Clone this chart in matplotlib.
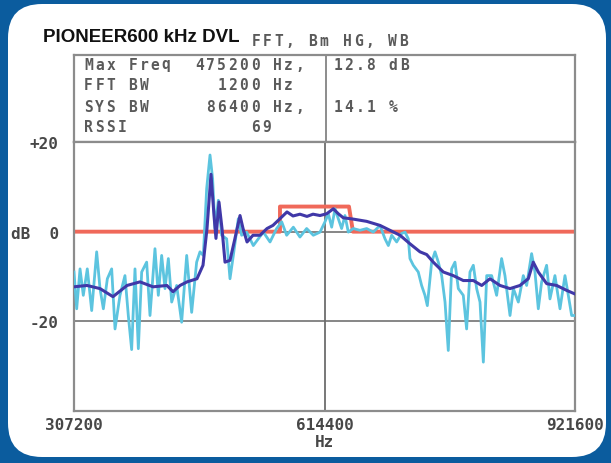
import numpy as np
import matplotlib
matplotlib.use("Agg")
import matplotlib.pyplot as plt
from matplotlib.patches import FancyBboxPatch

W, H = 611, 464

# spectrum, frequency in kHz, level in dB
raw_khz = [307.2, 310.5, 314.6, 318.6, 323.5, 328.9, 335.0, 339.1, 343.2, 348.1,
           353.4, 357.5, 363.6, 369.7, 373.8, 377.9, 382.0, 386.1, 390.2, 396.3,
           400.4, 406.5, 410.6, 414.7, 418.8, 422.9, 427.0, 433.1, 439.2, 445.4,
           451.5, 457.6, 461.7, 465.8, 469.9, 474.0, 477.2, 480.1, 484.2, 488.3,
           494.4, 498.5, 502.6, 508.7, 512.8, 518.9, 527.1, 533.2, 539.4, 547.6,
           555.7, 561.9, 568.0, 576.2, 584.3, 592.5, 600.7, 608.9, 615.0, 619.1,
           623.2, 627.3, 631.3, 635.4, 639.5, 643.6, 649.7, 657.9, 666.1, 674.3,
           682.4, 688.6, 692.7, 696.8, 702.9, 709.0, 713.1, 717.2, 719.2, 723.3,
           729.4, 733.5, 737.6, 740.5, 745.8, 749.9, 754.0, 758.1, 762.2, 766.2,
           770.3, 774.4, 778.5, 784.6, 788.7, 792.8, 796.9, 801.0, 805.1, 809.2,
           813.3, 819.4, 825.5, 831.6, 835.7, 841.9, 846.0, 852.1, 858.2, 862.3,
           868.4, 872.5, 876.6, 880.7, 886.8, 890.9, 897.0, 903.2, 909.3, 913.4,
           917.5, 921.6]
raw_db = [-9.0, -17.2, -8.3, -14.2, -8.3, -17.6, -4.5, -12.7, -17.2, -10.5,
          -8.3, -21.7, -14.2, -9.8, -18.7, -26.3, -8.3, -26.1, -9.0, -6.8,
          -18.7, -3.8, -14.2, -5.3, -12.7, -6.0, -15.7, -12.0, -20.2, -5.3,
          -18.0, -6.8, -4.5, -5.3, 9.6, 17.1, 11.8, 0.7, 7.0, -0.8,
          -1.6, -10.5, -5.3, 2.9, -0.8, -0.1, -3.1, -1.6, -0.1, -2.3,
          0.7, 2.2, -0.8, 1.0, -1.2, 0.7, -0.8, -0.1, 2.2, 4.0,
          1.0, 5.1, 2.9, 0.7, 3.6, -0.1, 0.7, 0.3, 0.7, -0.1,
          1.4, -1.6, -3.1, -0.8, -2.3, -0.4, -0.1, -1.6, -6.0, -7.5,
          -9.0, -12.0, -14.2, -16.5, -6.8, -4.5, -6.8, -9.8, -15.7, -26.5,
          -8.3, -6.8, -12.7, -14.2, -21.7, -9.0, -7.5, -12.7, -15.7, -29.1,
          -9.8, -9.8, -14.2, -6.0, -9.8, -18.7, -12.7, -15.7, -9.8, -12.0,
          -4.9, -9.0, -17.2, -11.2, -7.5, -15.0, -9.8, -17.2, -9.8, -14.2,
          -18.7, -18.7]

avg_khz = [307.2, 323.1, 339.1, 355.0, 372.2, 388.1, 404.1, 421.2, 428.6, 437.2,
           445.8, 458.0, 465.4, 470.3, 475.2, 478.9, 481.3, 485.0, 488.7, 492.4,
           498.5, 504.6, 510.8, 514.5, 519.4, 526.7, 535.3, 543.9, 551.2, 559.8,
           568.4, 575.8, 584.3, 592.9, 600.3, 608.9, 617.1, 625.2, 631.3, 637.4,
           649.7, 666.1, 682.4, 694.7, 707.0, 719.2, 731.5, 739.7, 747.8, 760.1,
           772.3, 784.6, 796.9, 807.2, 817.3, 829.6, 841.9, 854.1, 864.3, 870.4,
           876.6, 886.9, 899.1, 911.4, 921.6]
avg_db = [-12.3, -12.0, -12.7, -14.5, -12.0, -11.2, -12.3, -12.0, -13.4, -12.0,
          -11.2, -10.5, -7.5, 0.7, 12.8, 3.6, -1.5, 6.6, 0.7, -6.8,
          -6.4, -1.5, 3.6, 0.7, -2.3, -0.8, -0.8, 0.7, 1.4, 2.9,
          4.4, 3.5, 3.9, 3.4, 3.9, 3.6, 4.0, 5.1, 4.0, 3.1,
          2.8, 2.3, 1.4, 0.3, -0.8, -2.7, -4.5, -5.1, -6.8, -9.0,
          -9.8, -10.9, -10.9, -12.0, -10.5, -12.0, -12.7, -12.0, -10.5, -6.8,
          -9.0, -11.6, -12.0, -13.1, -13.9]

mask_khz = [307.2, 559.8, 559.8, 644.4, 649.3, 921.6]
mask_db = [0, 0, 5.6, 5.6, 0, 0]

x_ticks = [307200, 614400, 921600]
y_ticks = [20, 0, -20]
y_labels = ['+20', 'dB  0', '-20']

table_rows = ["Max Freq  475200 Hz,", "FFT BW      1200 Hz", "SYS BW     86400 Hz,", "RSSI           69"]
table_right = ["12.8 dB", "", "14.1 %", ""]

mono_font = 'DejaVu Sans Mono'
text_gray = '#5a5a5a'

fig = plt.figure(figsize=(W / 100, H / 100), dpi=100)
fig.patch.set_facecolor('#0b5c9e')
fig.patches.append(FancyBboxPatch((8, 6), 598, 453, boxstyle="round,pad=0,rounding_size=34",
                                  transform=None, facecolor='white', edgecolor='none', zorder=-5))


def mono(x, y, s, pitch=11.1, size=10.5, color=text_gray):
    # fixed wide pitch, like the bitmap font of the instrument
    for i, ch in enumerate(s):
        if ch != ' ':
            fig.text((x + i * pitch + pitch / 2) / W, 1 - y / H, ch, ha='center', va='center',
                     family=mono_font, weight='bold', size=size, color=color)


fig.text(43 / W, 1 - 38 / H, "PIONEER600 kHz DVL", family='Liberation Sans', weight='bold',
         size=13.5, color='#111111', va='center', ha='left')
mono(250, 41, "FFT, Bm HG, WB", pitch=11.4, size=10.5)

# info table above the plot
tab = fig.add_axes([74 / W, 1 - 143 / H, 501 / W, 87 / H])
tab.set_xticks([])
tab.set_yticks([])
for s in tab.spines.values():
    s.set_color('#8c8c8c')
    s.set_linewidth(1.6)
tab.set_xlim(74, 575)
tab.axvline(326, color='#8c8c8c', lw=1.4)

row_y = [65, 86, 107, 128]
for y, left, right in zip(row_y, table_rows, table_right):
    mono(83, y, left)
    mono(332, y, right)

ax = fig.add_axes([74 / W, 1 - 412 / H, 501 / W, 269 / H])
ax.set_xlim(307200, 921600)
ax.set_ylim(-40, 20)
for s in ax.spines.values():
    s.set_color('#8c8c8c')
    s.set_linewidth(1.6)

for yv in [20, 0, -20]:
    ax.axhline(yv, color='#7d7d7d', lw=1.3, zorder=1)
ax.axvline(614400, color='#6d6d6d', lw=1.3, zorder=1)

ax.plot(np.array(mask_khz) * 1000, mask_db, color='#f0695a', lw=2.8, zorder=2)
ax.plot(np.array(raw_khz) * 1000, raw_db, color='#5cc4df', lw=2.0, zorder=3)
ax.plot(np.array(avg_khz) * 1000, avg_db, color='#4038a8', lw=2.2, zorder=4)

ax.set_xticks(x_ticks)
ax.set_xticklabels([str(v) for v in x_ticks])
ax.set_yticks(y_ticks)
ax.set_yticklabels(y_labels)
ax.tick_params(length=0, labelsize=11.5, labelcolor='#474747')
ax.tick_params(axis='x', pad=4)
ax.tick_params(axis='y', pad=11)
for lab in ax.get_xticklabels() + ax.get_yticklabels():
    lab.set_family(mono_font)
    lab.set_weight('bold')
ax.set_xlabel('Hz', family=mono_font, weight='bold', size=11.5, color='#474747', labelpad=2)

fig.savefig('out.png', dpi=100, facecolor=fig.get_facecolor())
